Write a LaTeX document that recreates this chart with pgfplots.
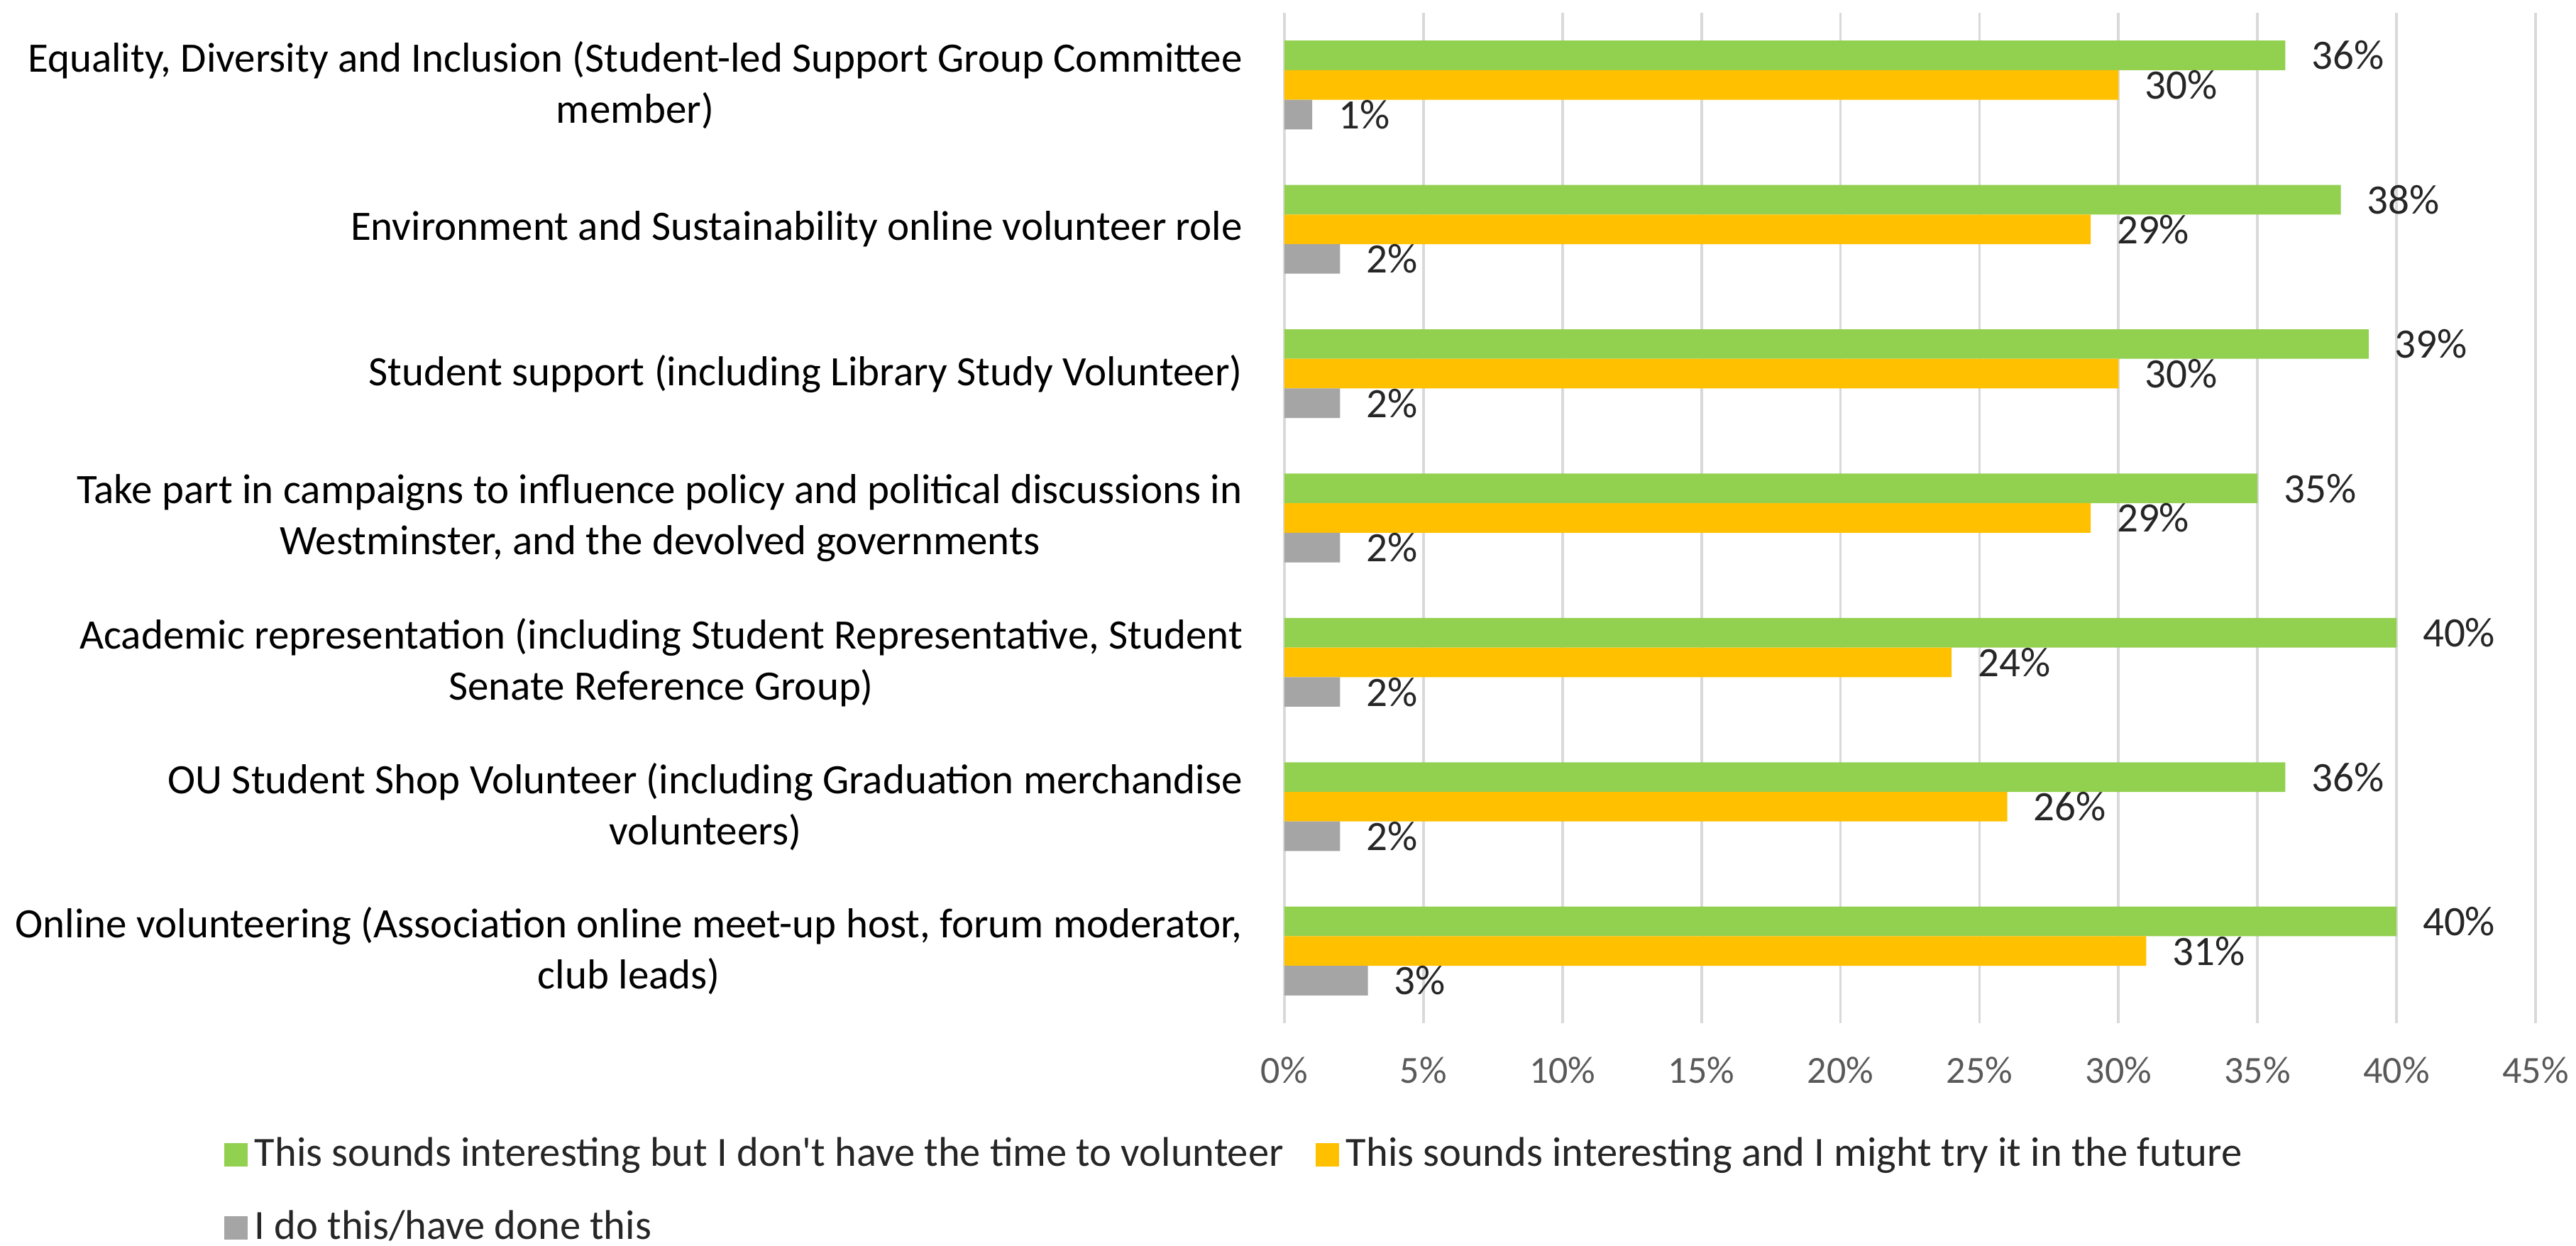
\documentclass[border=0pt]{standalone}
\usepackage{pgfplots}
\pgfplotsset{compat=1.18}
\usepackage{fontspec}
\setmainfont{Carlito}
\definecolor{cgreen}{HTML}{92D050}
\definecolor{corange}{HTML}{FFC000}
\definecolor{cgray}{HTML}{A5A5A5}
\definecolor{gridc}{HTML}{D9D9D9}
\definecolor{ticktext}{HTML}{595959}
\definecolor{labtext}{HTML}{262626}
\begin{document}
\begin{tikzpicture}
\path[use as bounding box] (-362pt,-62.6pt) rectangle (364pt,288.4pt);
\begin{axis}[
  scale only axis, width=352.6pt, height=284.8pt,
  xbar, bar width=8.34pt,
  xmin=0, xmax=45, ymin=-0.5, ymax=6.5,
  /pgf/number format/assume math mode=true,
  xtick={0,5,...,45},
  xticklabels={0\%,5\%,10\%,15\%,20\%,25\%,30\%,35\%,40\%,45\%},
  ytick={0,1,2,3,4,5,6},
  yticklabels={
    {Online volunteering (Association online meet-up host, forum moderator,\\club leads)},
    {OU Student Shop Volunteer (including Graduation merchandise\\volunteers)},
    {Academic representation (including Student Representative, Student\\Senate Reference Group)},
    {Take part in campaigns to influence policy and political discussions in\\Westminster, and the devolved governments},
    {Student support (including Library Study Volunteer)},
    {Environment and Sustainability online volunteer role},
    {Equality, Diversity and Inclusion (Student-led Support Group Committee\\member)}
  },
  axis line style={draw=none},
  major tick length=0pt,
  xmajorgrids, major grid style={gridc, line width=0.75pt},
  xticklabel style={font=\fontsize{10.8}{12}\selectfont, text=ticktext, yshift=-6pt},
  yticklabel style={font=\fontsize{11.8}{14.4}\selectfont, text=black, align=center, anchor=east, inner sep=0pt, xshift=-11.6pt},
  point meta=x,
  nodes near coords={\pgfmathprintnumber{\pgfplotspointmeta}\%},
  every node near coord/.append style={font=\fontsize{11.8}{14}\selectfont, text=labtext, anchor=west, inner sep=0pt, xshift=7.2pt},
  legend columns=2,
  legend cell align=left,
  legend image code/.code={\fill[#1] (0pt,-3.3pt) rectangle (6.6pt,3.3pt);},
  legend style={draw=none, at={(0,0)}, anchor=north west, xshift=-302pt, yshift=-28pt,
    font=\fontsize{11.7}{12.5}\selectfont, text=labtext, row sep=7pt,
    /tikz/every even column/.append style={column sep=7pt}},
]
\addplot[fill=cgreen, draw=none, bar shift=8.34pt] coordinates {(40,0) (36,1) (40,2) (35,3) (39,4) (38,5) (36,6)};
\addplot[fill=corange, draw=none, bar shift=0pt] coordinates {(31,0) (26,1) (24,2) (29,3) (30,4) (29,5) (30,6)};
\addplot[fill=cgray, draw=none, bar shift=-8.34pt] coordinates {(3,0) (2,1) (2,2) (2,3) (2,4) (2,5) (1,6)};
\legend{This sounds interesting but I don\textquotesingle t have the time to volunteer, This sounds interesting and I might try it in the future, I do this/have done this}
\end{axis}
\end{tikzpicture}
\end{document}
